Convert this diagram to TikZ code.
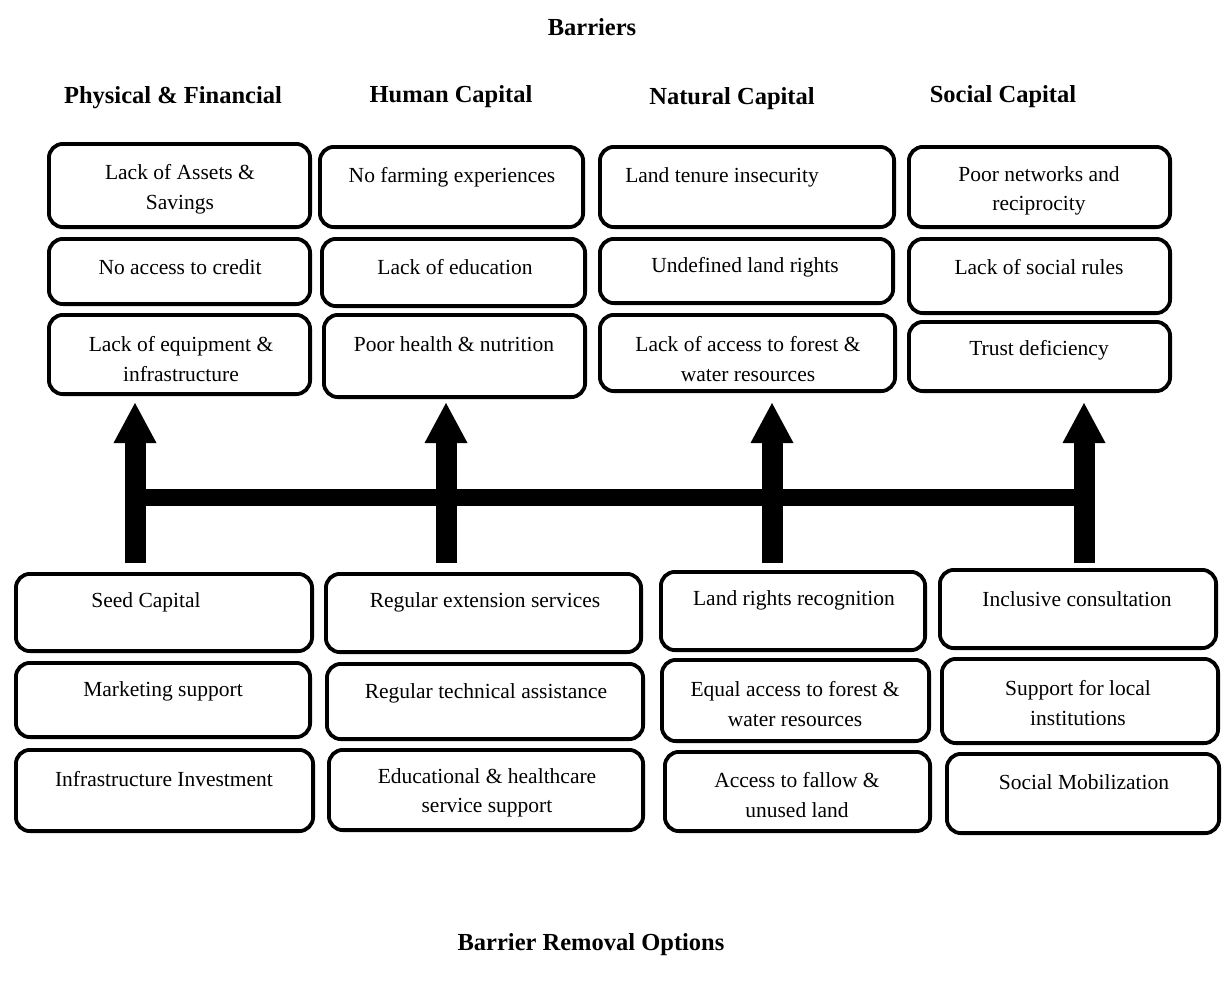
\documentclass[tikz,border=0pt]{standalone}
\usepackage{fontspec}
\setmainfont{Liberation Serif}
\usetikzlibrary{arrows.meta}

\begin{document}
\begin{tikzpicture}[x=1pt, y=-1pt,
  cell/.style={rectangle, draw, line width=3.8pt, rounded corners=14pt, inner sep=0pt},
  txt/.style={align=center, inner sep=0pt, yshift=-2pt, font=\fontsize{21.5}{29.5}\selectfont},
  head/.style={inner sep=0pt, yshift=-2pt, font=\fontsize{24.5}{29}\selectfont\bfseries},
  fat/.style={line width=21pt, -{Triangle[width=43pt, length=40pt, line width=0pt]}},
  bar/.style={line width=17pt}
]
\useasboundingbox (0,0) rectangle (1222,985);

% headings
\node[head] (ttl) at (592,25) {Barriers};
\node[head] (h1) at (173,96) {Physical \& Financial};
\node[head] (h2) at (451,95) {Human Capital};
\node[head] (h3) at (732,97) {Natural Capital};
\node[head] (h4) at (1003,95) {Social Capital};
\node[head] (opt) at (591,943) {Barrier Removal Options};

% boxes
\foreach \n/\xa/\ya/\xb/\yb in {
  b11/47/142/312/229, b12/47/237/312/306, b13/47/313/312/396,
  b21/318/145/585/229, b22/320/237/587/308, b23/322/313/587/399,
  b31/598/145/896/229, b32/598/237/895/305, b33/598/313/897/393,
  b41/907/145/1172/229, b42/907/237/1172/315, b43/907/320/1172/393,
  c11/14/572/314/653, c12/14/661/312/739, c13/14/748/315/833,
  c21/324/572/643/654, c22/325/662/645/741, c23/327/748/645/832,
  c31/659/570/927/652, c32/660/658/931/743, c33/663/750/932/833,
  c41/938/568/1218/650, c42/940/657/1220/745, c43/945/752/1221/835}
  \node[cell, minimum width={(\xb-\xa-3.8)*1pt}, minimum height={(\yb-\ya-3.8)*1pt}]
    (\n) at ({(\xa+\xb)/2},{(\ya+\yb)/2}) {};

% texts
\foreach \n/\tx/\ty/\t in {
  t11/180/187/{Lack of Assets \&\\Savings},
  t12/180/265/{No access to credit},
  t13/181/357/{Lack of equipment \&\\infrastructure},
  t21/452/175/{No farming experiences},
  t22/455/265/{Lack of education},
  t23/454/342/{Poor health \& nutrition},
  t31/722/175/{Land tenure insecurity},
  t32/745/265/{Undefined land rights},
  t33/748/357/{Lack of access to forest \&\\water resources},
  t41/1039/189/{Poor networks and\\reciprocity},
  t42/1039/265/{Lack of social rules},
  t43/1039/348/{Trust deficiency},
  u11/146/600/{Seed Capital},
  u12/163/689/{Marketing support},
  u13/164/777/{Infrastructure Investment},
  u21/485/600/{Regular extension services},
  u22/486/691/{Regular technical assistance},
  u23/487/791/{Educational \& healthcare\\service support},
  u31/794/598/{Land rights recognition},
  u32/795/702/{Equal access to forest \&\\water resources},
  u33/797/793/{Access to fallow \&\\unused land},
  u41/1077/597/{Inclusive consultation},
  u42/1078/701/{Support for local\\institutions},
  u43/1084/780/{Social Mobilization}}
  \node[txt] (\n) at (\tx,\ty) {\t};

% arrows
\foreach \k/\xx in {1/135, 2/446, 3/772, 4/1084} {
  \coordinate (a\k s) at (\xx,563);
  \coordinate (a\k e) at (\xx,403);
  \coordinate (j\k) at (\xx,497.5);
  \draw[fat] (a\k s) -- (a\k e);
}
\draw[bar] (j1) -- (j4);
\end{tikzpicture}
\end{document}
